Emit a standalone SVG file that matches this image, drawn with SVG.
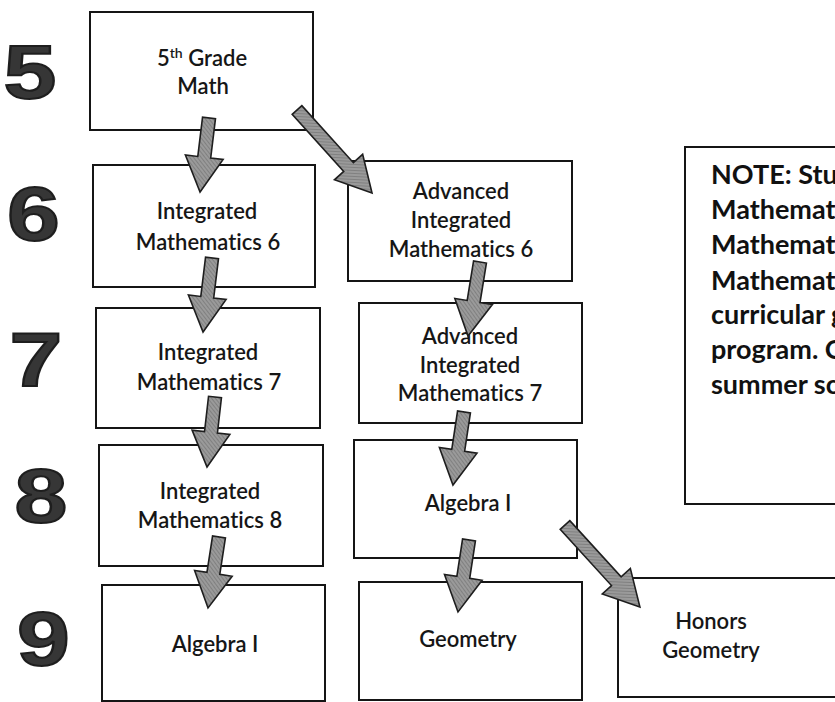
<svg xmlns="http://www.w3.org/2000/svg" width="835" height="702" viewBox="0 0 835 702">
<style>
.box{fill:#fff;stroke:#151515;stroke-width:2}
.t{font-family:Lato,"Open Sans","Liberation Sans",sans-serif;font-size:22px;fill:#161616;text-anchor:middle;font-weight:600;font-variant-ligatures:none;font-feature-settings:"liga" 0}
.note{font-family:Lato,"Open Sans","Liberation Sans",sans-serif;font-size:27px;fill:#111;font-weight:bold;font-variant-ligatures:none;font-feature-settings:"liga" 0}
.g{font-family:"Liberation Sans",Arial,sans-serif;font-weight:bold;font-size:76px;fill:#363636;stroke:#1e1e1e;stroke-width:2;text-anchor:middle}
.arr{fill:url(#hatch);stroke:#1e1e1e;stroke-width:1.6;stroke-linejoin:miter}
</style>
<defs>
<pattern id="hatch" width="3" height="3" patternUnits="userSpaceOnUse" patternTransform="rotate(45)">
<rect width="3" height="3" fill="#9a9a9a"/>
<line x1="0" y1="0" x2="0" y2="3" stroke="#6e6e6e" stroke-width="1.2"/>
</pattern>
</defs>
<rect width="835" height="702" fill="#fff"/>
<g id="grades">
<text class="g" transform="translate(30,98) scale(1.25,1)">5</text>
<text class="g" transform="translate(33.5,240) scale(1.25,1)">6</text>
<text class="g" transform="translate(36,386) scale(1.25,1)">7</text>
<text class="g" transform="translate(41,522) scale(1.25,1)">8</text>
<text class="g" transform="translate(43.5,665) scale(1.25,1)">9</text>
</g>
<g id="n-grade5"><rect class="box" x="90" y="12" width="223" height="118"/><text class="t" x="202" y="66">5<tspan font-size="14" dy="-8">th</tspan><tspan dy="8"> Grade</tspan></text><text class="t" x="203" y="94">Math</text></g>
<g id="n-im6"><rect class="box" x="93" y="165" width="222" height="122"/><text class="t" x="207" y="219">Integrated</text><text class="t" x="208" y="250">Mathematics 6</text></g>
<g id="n-aim6"><rect class="box" x="348" y="161" width="224" height="120"/><text class="t" x="461" y="199">Advanced</text><text class="t" x="461" y="228">Integrated</text><text class="t" x="461" y="257">Mathematics 6</text></g>
<g id="n-im7"><rect class="box" x="96" y="308" width="224" height="120"/><text class="t" x="208" y="360">Integrated</text><text class="t" x="209" y="390">Mathematics 7</text></g>
<g id="n-aim7"><rect class="box" x="359" y="303" width="223" height="120"/><text class="t" x="470" y="344">Advanced</text><text class="t" x="470" y="373">Integrated</text><text class="t" x="470" y="401">Mathematics 7</text></g>
<g id="n-im8"><rect class="box" x="99" y="445" width="224" height="121"/><text class="t" x="210" y="499">Integrated</text><text class="t" x="210" y="528">Mathematics 8</text></g>
<g id="n-alg8"><rect class="box" x="354" y="440" width="223" height="118"/><text class="t" x="468" y="511">Algebra I</text></g>
<g id="n-alg9"><rect class="box" x="102" y="585" width="223" height="116"/><text class="t" x="215" y="652">Algebra I</text></g>
<g id="n-geo"><rect class="box" x="359" y="582" width="223" height="118"/><text class="t" x="468" y="647">Geometry</text></g>
<g id="n-hon"><rect class="box" x="618" y="578" width="230" height="119"/><text class="t" x="711" y="629">Honors</text><text class="t" x="711" y="658">Geometry</text></g>
<g id="n-note"><rect class="box" x="685" y="147" width="170" height="357"/>
<text class="note" x="711" y="184">NOTE: Stud</text>
<text class="note" x="711" y="219">Mathemat</text>
<text class="note" x="711" y="254">Mathemat</text>
<text class="note" x="711" y="290">Mathemat</text>
<text class="note" x="711" y="324">curricular g</text>
<text class="note" x="711" y="359">program. C</text>
<text class="note" x="711" y="394">summer sc</text>
</g>
<g id="connectors">
<path class="arr" transform="translate(209,118) rotate(96.9)" d="M0,-6.5 L39.5,-6.5 L39.5,-19 L74.5,0 L39.5,19 L39.5,6.5 L0,6.5 Z"/>
<path class="arr" transform="translate(297,110) rotate(47.9)" d="M0,-6.5 L76.9,-6.5 L76.9,-19 L111.9,0 L76.9,19 L76.9,6.5 L0,6.5 Z"/>
<path class="arr" transform="translate(212,258) rotate(96.9)" d="M0,-6.5 L39.5,-6.5 L39.5,-19 L74.5,0 L39.5,19 L39.5,6.5 L0,6.5 Z"/>
<path class="arr" transform="translate(215,397) rotate(96.5)" d="M0,-6.5 L35.5,-6.5 L35.5,-19 L70.5,0 L35.5,19 L35.5,6.5 L0,6.5 Z"/>
<path class="arr" transform="translate(219,537) rotate(98.8)" d="M0,-6.5 L36.8,-6.5 L36.8,-19 L71.8,0 L36.8,19 L36.8,6.5 L0,6.5 Z"/>
<path class="arr" transform="translate(480,262) rotate(99.2)" d="M0,-6.5 L40,-6.5 L40,-19 L75,0 L40,19 L40,6.5 L0,6.5 Z"/>
<path class="arr" transform="translate(464,412) rotate(98.6)" d="M0,-6.5 L38.8,-6.5 L38.8,-19 L73.8,0 L38.8,19 L38.8,6.5 L0,6.5 Z"/>
<path class="arr" transform="translate(469,540) rotate(98.7)" d="M0,-6.5 L37.8,-6.5 L37.8,-19 L72.8,0 L37.8,19 L37.8,6.5 L0,6.5 Z"/>
<path class="arr" transform="translate(565,525) rotate(47.6)" d="M0,-6.5 L76.1,-6.5 L76.1,-19 L111.1,0 L76.1,19 L76.1,6.5 L0,6.5 Z"/>
</g>
</svg>
